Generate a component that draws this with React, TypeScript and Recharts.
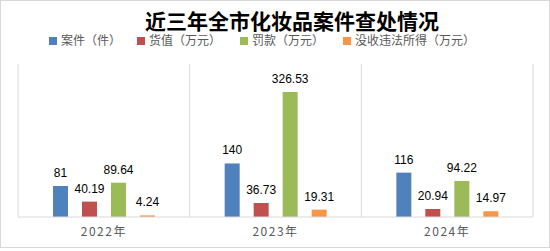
import React from 'react';
import { BarChart, Bar, XAxis, YAxis, CartesianGrid, LabelList } from 'recharts';

const years = ['2022年', '2023年', '2024年'];
const cases = [81, 140, 116];
const goodsValue = [40.19, 36.73, 20.94];
const fines = [89.64, 326.53, 94.22];
const confiscated = [4.24, 19.31, 14.97];

const seriesNames = ['案件（件）', '货值（万元）', '罚款（万元）', '没收违法所得（万元）'];
const colors = ['#4F81BD', '#C0504D', '#9BBB59', '#F79646'];
const keys = ['cases', 'goodsValue', 'fines', 'confiscated'];

const data = years.map((y, i) => ({
  year: y,
  cases: cases[i],
  goodsValue: goodsValue[i],
  fines: fines[i],
  confiscated: confiscated[i],
}));

const cjkFont = '"Liberation Sans", "Noto Sans CJK SC", sans-serif';

// legend drawn as html, recharts' Legend would eat into the plot area
const ChartLegend = () => (
  <div
    style={{
      position: 'absolute', left: 49, top: 34, height: 14, display: 'flex', alignItems: 'center',
      fontFamily: cjkFont, fontSize: 12, color: '#595959', whiteSpace: 'nowrap',
    }}
  >
    {seriesNames.map((name, i) => (
      <div key={name} style={{ display: 'flex', alignItems: 'center', marginRight: i === 0 ? 16 : 19 }}>
        <span style={{ width: 8, height: 8, background: colors[i], marginRight: 4, display: 'inline-block' }} />
        <span style={{ lineHeight: '14px' }}>{name}</span>
      </div>
    ))}
  </div>
);

export default function App() {
  return (
    <div style={{ position: 'absolute', left: 0, top: 0, width: 550, height: 251, background: '#fff' }}>
      <div style={{ position: 'absolute', left: 0, top: 0, width: 548, height: 246, border: '1px solid #d9d9d9' }} />
      <div
        style={{
          position: 'absolute', left: 145, top: 11, fontFamily: cjkFont,
          fontWeight: 'bold', fontSize: 21, lineHeight: '21px', color: '#000', whiteSpace: 'nowrap',
        }}
      >
        近三年全市化妆品案件查处情况
      </div>
      <ChartLegend />
      <BarChart
        width={550}
        height={251}
        data={data}
        margin={{ top: 64, right: 17, left: 18, bottom: 4 }}
        barSize={15}
        barGap={14}
        style={{ position: 'absolute', left: 0, top: 0 }}
      >
        <CartesianGrid
          horizontal={false}
          stroke="#d9d9d9"
          verticalCoordinatesGenerator={({ offset }: any) =>
            years.map((_, i) => offset.left + (i * offset.width) / years.length).concat([offset.left + offset.width])
          }
        />
        <XAxis
          dataKey="year"
          axisLine={{ stroke: '#d9d9d9' }}
          tickLine={false}
          height={30}
          tickMargin={4}
          tick={{ fill: '#595959', fontSize: 12, letterSpacing: 1.5, fontFamily: '"Noto Sans CJK SC", sans-serif' }}
        />
        <YAxis hide domain={[0, 400]} />
        {keys.map((k, i) => (
          <Bar key={k} dataKey={k} name={seriesNames[i]} fill={colors[i]} isAnimationActive={false}>
            <LabelList
              dataKey={k}
              position="top"
              offset={9}
              fill="#000"
              fontSize={12}
              fontFamily='"Liberation Sans", Arial, sans-serif'
            />
          </Bar>
        ))}
      </BarChart>
    </div>
  );
}
